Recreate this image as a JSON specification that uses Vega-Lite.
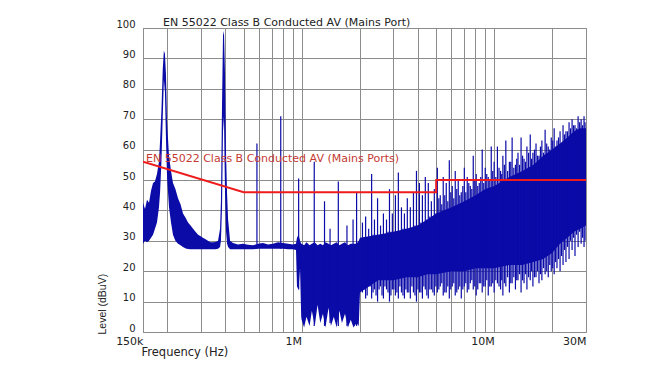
{
  "$schema": "https://vega.github.io/schema/vega-lite/v6.json",
  "width": 443,
  "height": 304,
  "autosize": "none",
  "padding": {"left": 143, "top": 28, "right": 77, "bottom": 48},
  "background": "white",
  "title": {"text": "EN 55022 Class B Conducted AV (Mains Port)", "anchor": "start", "frame": "group", "dx": 20, "dy": 12, "offset": 3, "fontSize": 11, "font": "DejaVu Sans", "fontWeight": "normal", "color": "#222222"},
  "config": {
    "view": {"stroke": "#888888", "strokeWidth": 1},
    "axis": {"gridColor": "#8c8c8c", "gridOpacity": 1, "gridWidth": 1, "ticks": false, "domain": false, "zindex": 1, "labelOverlap": false, "labelFont": "DejaVu Sans", "labelFontSize": 10, "labelColor": "#222222", "titleFont": "DejaVu Sans", "titleFontSize": 10, "titleFontWeight": "normal", "titleColor": "#222222"},
    "axisX": {"labelFontSize": 11, "titleFontSize": 11.5, "labelAlign": "right", "labelBaseline": "top", "labelPadding": 3, "labelBound": false, "labelFlush": false, "titleAnchor": "start", "titleAlign": "left", "titleX": -2, "titleY": 14, "titleBaseline": "top"},
    "axisY": {"tickCount": 11, "labelPadding": 8, "labelBaseline": "middle", "labelOffset": -4, "titleFont": "Liberation Sans", "titleFontSize": 10.5, "titleAngle": -90, "titleX": -41, "titleY": 306, "titleAlign": "left", "titleBaseline": "middle"}
  },
  "datasets": {
    "band": [
      {"f":150,"lo":29,"hi":42.5},{"f":153.6,"lo":30,"hi":40.5},{"f":157.4,"lo":29.5,"hi":43.5},{"f":161.2,"lo":30,"hi":42.5},{"f":165.1,"lo":31,"hi":46.5},{"f":169.1,"lo":32,"hi":49},{"f":173.1,"lo":34,"hi":49.5},{"f":177.3,"lo":36,"hi":52},{"f":181.6,"lo":41,"hi":56},{"f":184,"lo":46,"hi":63},{"f":187,"lo":56,"hi":73},{"f":190,"lo":71,"hi":86.5},{"f":192.5,"lo":83,"hi":92.5},{"f":195,"lo":79,"hi":91.5},{"f":197.5,"lo":63,"hi":84.5},{"f":200,"lo":51,"hi":69},{"f":204.7,"lo":41,"hi":58},{"f":209.7,"lo":36,"hi":53},{"f":214.7,"lo":32,"hi":49},{"f":221,"lo":30,"hi":47},{"f":228,"lo":29,"hi":44},{"f":235,"lo":28.5,"hi":42},{"f":242,"lo":28,"hi":39},{"f":250,"lo":27.5,"hi":37.5},{"f":257,"lo":27.3,"hi":36},{"f":265,"lo":27.2,"hi":35},{"f":273,"lo":27.2,"hi":34},{"f":281,"lo":27.2,"hi":33},{"f":290,"lo":27.2,"hi":32},{"f":299,"lo":27.2,"hi":31.5},{"f":307,"lo":27.2,"hi":31},{"f":317,"lo":27.2,"hi":30.5},{"f":326,"lo":27.2,"hi":30},{"f":336,"lo":27.2,"hi":29.5},{"f":347,"lo":27.2,"hi":29.5},{"f":357,"lo":27.2,"hi":29.6},{"f":368,"lo":27.4,"hi":30},{"f":377,"lo":28,"hi":34},{"f":381,"lo":30,"hi":43},{"f":386,"lo":41,"hi":75},{"f":390.5,"lo":66,"hi":97.5},{"f":395,"lo":71,"hi":99},{"f":400,"lo":46,"hi":85},{"f":405,"lo":33,"hi":58.5},{"f":410,"lo":29,"hi":45.5},{"f":415,"lo":28,"hi":37},{"f":425,"lo":27.2,"hi":30},{"f":440,"lo":27.2,"hi":29.3},{"f":467,"lo":27.2,"hi":28.8},{"f":496,"lo":27.2,"hi":29},{"f":527,"lo":27.2,"hi":28.7},{"f":559,"lo":27.2,"hi":28.5},{"f":594,"lo":27.4,"hi":29},{"f":630,"lo":27.4,"hi":29.3},{"f":669,"lo":27.4,"hi":28.8},{"f":710,"lo":27.4,"hi":29},{"f":754,"lo":27.4,"hi":29.5},{"f":800,"lo":27.4,"hi":29.3},{"f":850,"lo":27.2,"hi":29},{"f":902,"lo":27.2,"hi":28.8},{"f":935,"lo":27,"hi":29},{"f":946,"lo":15,"hi":31},{"f":963,"lo":14,"hi":32},{"f":981,"lo":21,"hi":30},{"f":995,"lo":5,"hi":29},{"f":1000,"lo":4,"hi":29},{"f":1030,"lo":1.5,"hi":28.5},{"f":1060,"lo":5,"hi":29.5},{"f":1100,"lo":2,"hi":28.5},{"f":1130,"lo":7,"hi":29},{"f":1170,"lo":2,"hi":29.5},{"f":1210,"lo":9,"hi":28.5},{"f":1250,"lo":3,"hi":29},{"f":1290,"lo":6,"hi":28.5},{"f":1330,"lo":1.5,"hi":29.5},{"f":1380,"lo":8,"hi":29},{"f":1420,"lo":2,"hi":28.5},{"f":1470,"lo":5,"hi":29},{"f":1520,"lo":1.5,"hi":29.5},{"f":1570,"lo":7,"hi":28.5},{"f":1620,"lo":3,"hi":29},{"f":1680,"lo":6,"hi":29.5},{"f":1740,"lo":1.5,"hi":28.5},{"f":1800,"lo":4,"hi":29},{"f":1860,"lo":1.5,"hi":29},{"f":1930,"lo":3,"hi":29},{"f":1980,"lo":2,"hi":30},{"f":2010,"lo":13,"hi":31},{"f":2500,"lo":17,"hi":32},{"f":3000,"lo":17,"hi":33},{"f":3500,"lo":18,"hi":34},{"f":4000,"lo":18,"hi":35},{"f":4500,"lo":19,"hi":37},{"f":5000,"lo":19,"hi":39},{"f":6000,"lo":20,"hi":41},{"f":7000,"lo":20,"hi":43},{"f":8000,"lo":21,"hi":45},{"f":9000,"lo":21,"hi":47},{"f":10000,"lo":21,"hi":48},{"f":12000,"lo":22,"hi":51},{"f":14000,"lo":22,"hi":53},{"f":16000,"lo":23,"hi":55},{"f":18000,"lo":24,"hi":58},{"f":20000,"lo":26,"hi":60},{"f":22000,"lo":29,"hi":62},{"f":24000,"lo":31,"hi":64},{"f":26000,"lo":33,"hi":66},{"f":28000,"lo":34,"hi":67},{"f":30000,"lo":35,"hi":67}
    ],
    "spikes": [
      {"f":586,"lo":27.4,"hi":62},{"f":779,"lo":27.4,"hi":71},{"f":965,"lo":14,"hi":50.5},{"f":1163,"lo":2,"hi":56},{"f":1315,"lo":2,"hi":43},{"f":1405,"lo":3,"hi":34},{"f":1551,"lo":2,"hi":49.5},{"f":1720,"lo":2,"hi":35},{"f":1850,"lo":3,"hi":37},{"f":1930,"lo":2,"hi":46},
      {"f":2070,"lo":13,"hi":36},{"f":2150,"lo":11,"hi":38},{"f":2230,"lo":15,"hi":34},{"f":2310,"lo":11,"hi":52},{"f":2390,"lo":14,"hi":37},{"f":2480,"lo":10,"hi":44},{"f":2570,"lo":15,"hi":35},{"f":2660,"lo":11,"hi":39},{"f":2760,"lo":14,"hi":37},{"f":2860,"lo":10,"hi":47},{"f":2960,"lo":14,"hi":39},{"f":3070,"lo":12,"hi":45},{"f":3180,"lo":11,"hi":52.5},{"f":3300,"lo":13,"hi":41},{"f":3420,"lo":11,"hi":39},{"f":3540,"lo":13,"hi":44},{"f":3670,"lo":11,"hi":41},{"f":3810,"lo":13,"hi":46},{"f":3950,"lo":10,"hi":53},{"f":4090,"lo":13,"hi":49},{"f":4240,"lo":11,"hi":45},{"f":4390,"lo":14,"hi":51},{"f":4550,"lo":11,"hi":49},{"f":4720,"lo":14,"hi":43},{"f":4890,"lo":12,"hi":47},
      {"f":5070,"lo":13,"hi":54},{"f":5250,"lo":15,"hi":45},{"f":5440,"lo":12,"hi":51},{"f":5640,"lo":13,"hi":49},{"f":5850,"lo":11,"hi":56.5},{"f":6060,"lo":15,"hi":48},{"f":6280,"lo":12,"hi":53},{"f":6510,"lo":14,"hi":50},{"f":6750,"lo":11,"hi":46},{"f":7000,"lo":15,"hi":54},{"f":7250,"lo":13,"hi":51},{"f":7520,"lo":16,"hi":48},{"f":7790,"lo":14,"hi":58},{"f":8070,"lo":12,"hi":52},{"f":8370,"lo":16,"hi":49},{"f":8670,"lo":13,"hi":60},{"f":8990,"lo":15,"hi":54},{"f":9320,"lo":12,"hi":51},{"f":9660,"lo":15,"hi":61},
      {"f":10000,"lo":13,"hi":56},{"f":10400,"lo":16,"hi":61},{"f":10800,"lo":14,"hi":53},{"f":11100,"lo":12,"hi":58},{"f":11500,"lo":15,"hi":63},{"f":12000,"lo":13,"hi":56},{"f":12400,"lo":16,"hi":64},{"f":12900,"lo":14,"hi":55},{"f":13300,"lo":17,"hi":59},{"f":13800,"lo":13,"hi":64},{"f":14300,"lo":16,"hi":57},{"f":14800,"lo":14,"hi":61},{"f":15400,"lo":17,"hi":65},{"f":15900,"lo":15,"hi":59},{"f":16500,"lo":18,"hi":62},{"f":17100,"lo":16,"hi":58},{"f":17700,"lo":17,"hi":63},{"f":18400,"lo":19,"hi":66.5},{"f":19100,"lo":18,"hi":61},{"f":19800,"lo":20,"hi":64},
      {"f":20500,"lo":19,"hi":67},{"f":21200,"lo":21,"hi":63},{"f":22000,"lo":20,"hi":66},{"f":22800,"lo":22,"hi":68},{"f":23600,"lo":23,"hi":66},{"f":24500,"lo":24,"hi":69},{"f":25400,"lo":27,"hi":70},{"f":26300,"lo":25,"hi":68},{"f":27300,"lo":28,"hi":71},{"f":28300,"lo":29,"hi":70},{"f":29300,"lo":28,"hi":71},
      {"f":2110,"lo":14,"hi":31},{"f":2190,"lo":12,"hi":31},{"f":2270,"lo":15,"hi":31},{"f":2350,"lo":13,"hi":32},{"f":2435,"lo":12,"hi":32},{"f":2525,"lo":14,"hi":32},{"f":2615,"lo":12,"hi":32},{"f":2710,"lo":15,"hi":32},{"f":2810,"lo":13,"hi":33},{"f":2910,"lo":12,"hi":33},{"f":3015,"lo":14,"hi":33},{"f":3125,"lo":13,"hi":33},{"f":3240,"lo":15,"hi":33},{"f":3360,"lo":12,"hi":34},{"f":3480,"lo":14,"hi":34},{"f":3605,"lo":13,"hi":34},{"f":3740,"lo":15,"hi":34},{"f":3880,"lo":12,"hi":35},{"f":4020,"lo":14,"hi":35},{"f":4165,"lo":13,"hi":36},{"f":4315,"lo":15,"hi":36},{"f":4470,"lo":12,"hi":37},{"f":4635,"lo":14,"hi":38},{"f":4805,"lo":13,"hi":38},{"f":4980,"lo":15,"hi":39},
      {"f":5160,"lo":14,"hi":44},{"f":5345,"lo":16,"hi":42},{"f":5540,"lo":13,"hi":45},{"f":5745,"lo":15,"hi":43},{"f":5955,"lo":14,"hi":46},{"f":6170,"lo":16,"hi":44},{"f":6395,"lo":13,"hi":47},{"f":6630,"lo":15,"hi":45},{"f":6875,"lo":14,"hi":48},{"f":7125,"lo":16,"hi":46},{"f":7385,"lo":14,"hi":49},{"f":7655,"lo":17,"hi":47},{"f":7930,"lo":15,"hi":50},{"f":8220,"lo":14,"hi":48},{"f":8520,"lo":16,"hi":51},{"f":8830,"lo":15,"hi":49},{"f":9155,"lo":17,"hi":52},{"f":9490,"lo":15,"hi":50},{"f":9830,"lo":16,"hi":53},
      {"f":10200,"lo":17,"hi":51},{"f":10600,"lo":15,"hi":54},{"f":10950,"lo":17,"hi":52},{"f":11300,"lo":16,"hi":55},{"f":11750,"lo":18,"hi":53},{"f":12200,"lo":16,"hi":56},{"f":12650,"lo":18,"hi":54},{"f":13100,"lo":17,"hi":57},{"f":13550,"lo":19,"hi":55},{"f":14050,"lo":17,"hi":58},{"f":14550,"lo":19,"hi":56},{"f":15100,"lo":18,"hi":59},{"f":15650,"lo":20,"hi":57},{"f":16200,"lo":18,"hi":60},{"f":16800,"lo":20,"hi":58},{"f":17400,"lo":19,"hi":61},{"f":18050,"lo":21,"hi":59},{"f":18750,"lo":20,"hi":62},{"f":19450,"lo":22,"hi":60},
      {"f":20150,"lo":21,"hi":63},{"f":20850,"lo":23,"hi":61},{"f":21600,"lo":24,"hi":64},{"f":22400,"lo":25,"hi":62},{"f":23200,"lo":27,"hi":65},{"f":24050,"lo":28,"hi":66},{"f":24950,"lo":30,"hi":67},{"f":25850,"lo":31,"hi":68},{"f":26800,"lo":32,"hi":67},{"f":27800,"lo":33,"hi":69},{"f":28800,"lo":31,"hi":68},{"f":29650,"lo":30,"hi":69}
    ],
    "limit": [
      {"f":150,"L":56,"seq":1},{"f":500,"L":46,"seq":2},{"f":5000,"L":46,"seq":3},{"f":5000,"L":50,"seq":4},{"f":30000,"L":50,"seq":5}
    ],
    "label": [
      {"f":155.5,"L":57,"text":"EN 55022 Class B Conducted AV (Mains Ports)"}
    ]
  },
  "layer": [
    {
      "data": {"name": "band"},
      "mark": {"type": "area", "color": "#0b0ba8", "clip": true},
      "encoding": {
        "x": {"field": "f", "type": "quantitative", "title": "Frequency (Hz)",
          "scale": {"type": "log", "domain": [150, 30000], "nice": false, "zero": false},
          "axis": {"values": [150,200,300,400,500,600,700,800,900,1000,2000,3000,4000,5000,6000,7000,8000,9000,10000,20000,30000],
            "labelExpr": "datum.value == 150 ? '150k' : datum.value == 1000 ? '1M' : datum.value == 10000 ? '10M' : datum.value == 30000 ? '30M' : ''"}},
        "y": {"field": "lo", "type": "quantitative", "title": "Level (dBuV)",
          "scale": {"domain": [0, 100], "nice": false, "zero": true},
          "axis": {"values": [0,10,20,30,40,50,60,70,80,90,100]}},
        "y2": {"field": "hi"}
      }
    },
    {
      "data": {"name": "spikes"},
      "mark": {"type": "rule", "color": "#0b0ba8", "strokeWidth": 1.2, "clip": true},
      "encoding": {
        "x": {"field": "f", "type": "quantitative", "title": "Frequency (Hz)",
          "axis": {"values": [150,200,300,400,500,600,700,800,900,1000,2000,3000,4000,5000,6000,7000,8000,9000,10000,20000,30000],
            "labelExpr": "datum.value == 150 ? '150k' : datum.value == 1000 ? '1M' : datum.value == 10000 ? '10M' : datum.value == 30000 ? '30M' : ''"}},
        "y": {"field": "lo", "type": "quantitative", "title": "Level (dBuV)", "axis": {"values": [0,10,20,30,40,50,60,70,80,90,100]}},
        "y2": {"field": "hi"}
      }
    },
    {
      "data": {"name": "limit"},
      "mark": {"type": "line", "color": "#ee1c1c", "strokeWidth": 2, "clip": true},
      "encoding": {
        "x": {"field": "f", "type": "quantitative", "title": "Frequency (Hz)",
          "axis": {"values": [150,200,300,400,500,600,700,800,900,1000,2000,3000,4000,5000,6000,7000,8000,9000,10000,20000,30000],
            "labelExpr": "datum.value == 150 ? '150k' : datum.value == 1000 ? '1M' : datum.value == 10000 ? '10M' : datum.value == 30000 ? '30M' : ''"}},
        "y": {"field": "L", "type": "quantitative", "title": "Level (dBuV)", "axis": {"values": [0,10,20,30,40,50,60,70,80,90,100]}},
        "order": {"field": "seq"}
      }
    },
    {
      "data": {"name": "label"},
      "mark": {"type": "text", "align": "left", "baseline": "middle", "font": "DejaVu Sans", "fontSize": 11, "color": "#c43a32"},
      "encoding": {
        "x": {"field": "f", "type": "quantitative", "title": "Frequency (Hz)",
          "axis": {"values": [150,200,300,400,500,600,700,800,900,1000,2000,3000,4000,5000,6000,7000,8000,9000,10000,20000,30000],
            "labelExpr": "datum.value == 150 ? '150k' : datum.value == 1000 ? '1M' : datum.value == 10000 ? '10M' : datum.value == 30000 ? '30M' : ''"}},
        "y": {"field": "L", "type": "quantitative", "title": "Level (dBuV)", "axis": {"values": [0,10,20,30,40,50,60,70,80,90,100]}},
        "text": {"field": "text"}
      }
    }
  ]
}
